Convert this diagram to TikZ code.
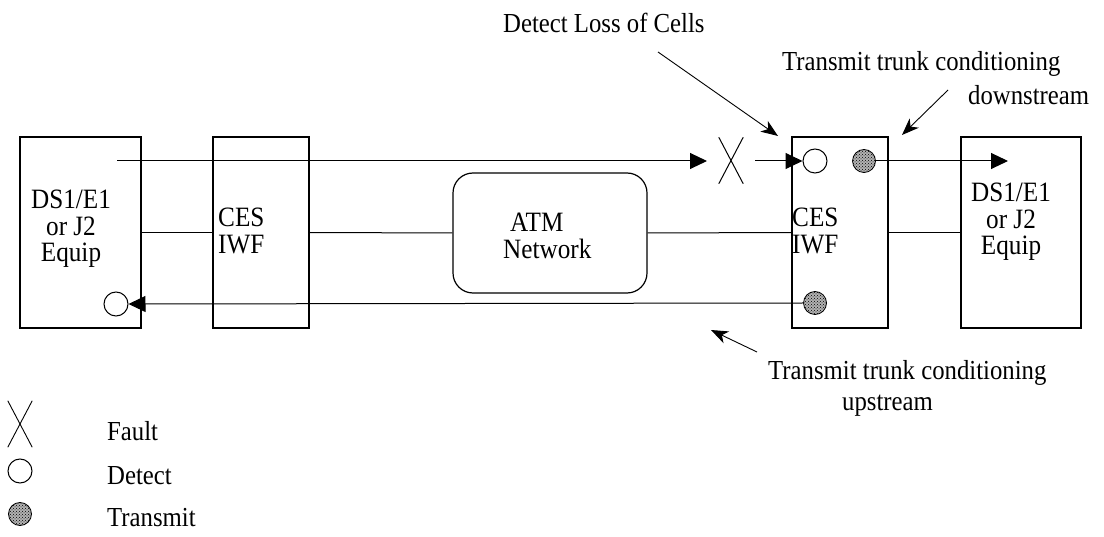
\documentclass[tikz,border=0pt]{standalone}
\usepackage{fontspec}
\setmainfont{Liberation Serif}[FakeStretch=0.9]
\usetikzlibrary{arrows.meta,patterns}
\tikzset{
  blk/.style={draw, line width=1.2pt, inner sep=0pt, minimum height=191pt},
  lbl/.style={font=\fontsize{27.5}{30}\selectfont, inner sep=0pt},
  btxt/.style={font=\fontsize{28}{26.5}\selectfont, inner sep=0pt},
  sig/.style={line width=1pt},
  tri/.style={sig, -{Triangle[length=17pt,width=16pt]}},
  ptr/.style={line width=0.9pt, -{Stealth[length=17pt,width=13pt,inset=5pt]}},
  det/.style={circle, draw, line width=1pt, minimum size=24pt, inner sep=0pt},
  txm/.style={circle, draw, line width=0.8pt, minimum size=23pt, inner sep=0pt,
              preaction={fill=black!30}, pattern=crosshatch dots},
  xmark/.style={minimum width=24pt, minimum height=46pt, inner sep=0pt}
}
\begin{document}
\begin{tikzpicture}[x=1pt,y=-1pt]
\useasboundingbox (0,0) rectangle (1104,537);

% blocks
\node[blk, minimum width=121pt] (dsL) at (80.5,232.5) {};
\node[blk, minimum width=96pt] (cesL) at (261,232.5) {};
\node[draw, line width=1.2pt, rounded corners=20pt, minimum width=194pt,
      minimum height=120pt, inner sep=0pt] (atm) at (550,233) {};
\node[blk, minimum width=96pt] (cesR) at (840,232.5) {};
\node[blk, minimum width=120pt] (dsR) at (1021,232.5) {};

% block texts
\node[btxt, align=center, anchor=north] (tdsL) at (71,190) {DS1/E1\\or J2\\Equip};
\node[btxt, align=left, anchor=north west] (tcesL) at (218,208) {CES\\IWF};
\node[btxt, align=left, anchor=north west] (tatm) at (503,213) {\hspace*{7pt}ATM\\Network};
\node[btxt, align=left, anchor=north west] (tcesR) at (792,208) {CES\\IWF};
\node[btxt, align=center, anchor=north] (tdsR) at (1011,183) {DS1/E1\\or J2\\Equip};

% middle links
\draw[sig] (dsL.east) -- (cesL.west);
\draw[sig] (cesL.east) -- (atm.west);
\draw[sig] (atm.east) -- (cesR.west);
\draw[sig] (cesR.east) -- (dsR.west);

% top path
\coordinate (t0) at (117,161);
\node[xmark] (fault) at (731,160.5) {};
\draw[sig] (fault.north west) -- (fault.south east);
\draw[sig] (fault.north east) -- (fault.south west);
\coordinate (f1) at (707,161);
\coordinate (f2) at (755,161);
\node[det] (d1) at (815,161) {};
\node[txm] (x1) at (864,161) {};
\coordinate (t1) at (1008,161);
\draw[tri] (t0) -- (f1);
\draw[tri] (f2) -- (d1.west);
\draw[tri] (x1.east) -- (t1);

% bottom path
\node[txm] (x2) at (815,303) {};
\node[det] (d2) at (116,304) {};
\draw[tri] (x2.west) -- (d2.east);

% annotations
\node[lbl, anchor=base west] (la) at (503,33) {Detect Loss of Cells};
\coordinate (la1) at (658,52);
\coordinate (la2) at (778,136);
\draw[ptr] (la1) -- (la2);

\node[lbl, anchor=base west] (lb) at (782,71) {Transmit trunk conditioning};
\node[lbl, anchor=base west] (lb2) at (968,105) {downstream};
\coordinate (lb1) at (948,90);
\coordinate (lbt) at (902,135);
\draw[ptr] (lb1) -- (lbt);

\node[lbl, anchor=base west] (lc) at (768,380) {Transmit trunk conditioning};
\node[lbl, anchor=base west] (lc2) at (842,410) {upstream};
\coordinate (lc1) at (757,352);
\coordinate (lct) at (711,330);
\draw[ptr] (lc1) -- (lct);

% legend
\node[xmark] (kx) at (20,424) {};
\draw[line width=0.9pt] (kx.north west) -- (kx.south east);
\draw[line width=0.9pt] (kx.north east) -- (kx.south west);
\node[det] (kd) at (20,471) {};
\node[txm] (kt) at (20,514) {};
\node[lbl, anchor=base west] (kxl) at (107,440) {Fault};
\node[lbl, anchor=base west] (kdl) at (107,484) {Detect};
\node[lbl, anchor=base west] (ktl) at (107,526) {Transmit};
\end{tikzpicture}
\end{document}
